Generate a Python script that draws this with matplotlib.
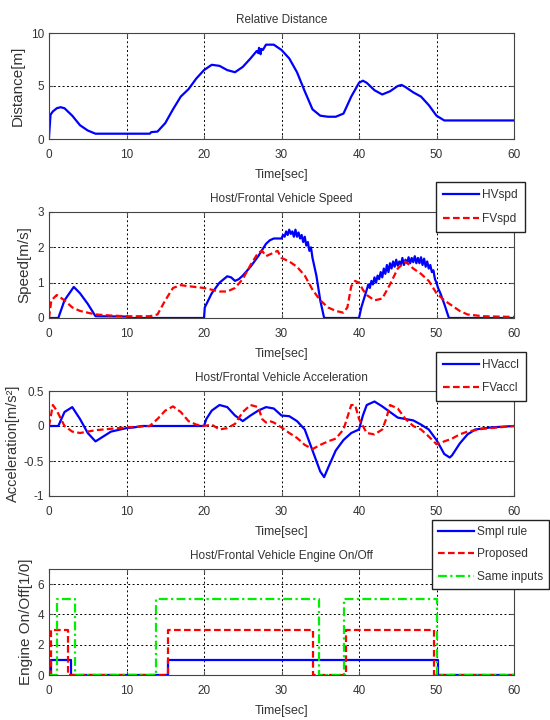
import matplotlib
matplotlib.use("Agg")
import matplotlib.pyplot as plt
from matplotlib import font_manager as fm
from matplotlib.ticker import FormatStrFormatter

_names = {f.name for f in fm.fontManager.ttflist}
NARROW = 'Liberation Sans Narrow' in _names
HFONT = ['Liberation Sans Narrow', 'Liberation Sans', 'DejaVu Sans'] if NARROW else ['Liberation Sans', 'DejaVu Sans']
VFONT = ['Liberation Sans', 'DejaVu Sans']
plt.rcParams['font.family'] = HFONT
plt.rcParams['axes.unicode_minus'] = False

# font sizes (pt) for horizontal texts depend on whether the narrow face exists
TICK_FS = 10 if NARROW else 8.5
TITLE_FS = 10.5 if NARROW else 8.5
XLAB_FS = 11 if NARROW else 9
LEG_FS = 10.5 if NARROW else 8.6
YLAB_FS = 11

# ---------------- data ----------------
dist_t = [0, 0.2, 0.5, 1.0, 1.5, 2, 3, 4, 5, 6, 8, 10, 13, 13.2, 14, 15, 16, 17, 18, 19, 20, 21, 22, 23, 24, 25, 26,
          26.8, 27.0, 27.1, 27.3, 27.4, 27.6, 28, 29, 30, 31, 32, 33, 34, 35, 36, 37, 38, 39, 40, 40.5, 41, 42, 43,
          44, 45, 45.5, 46, 47, 48, 49, 50, 51, 60]
dist_v = [0.2, 2.3, 2.6, 2.9, 3.0, 2.9, 2.2, 1.3, 0.8, 0.5, 0.5, 0.5, 0.5, 0.65, 0.7, 1.5, 2.8, 4.0, 4.7, 5.7, 6.5, 7.0, 6.9, 6.5, 6.3, 6.8, 7.6,
          8.3, 8.1, 8.6, 8.0, 8.5, 8.4, 8.9, 8.9, 8.4, 7.6, 6.3, 4.5, 2.8, 2.2, 2.1, 2.1, 2.4, 4.0, 5.3, 5.5, 5.3, 4.6, 4.2,
          4.5, 5.0, 5.1, 4.9, 4.4, 4.0, 3.2, 2.2, 1.75, 1.75]

hv_spd_t = [0, 1.2, 2, 3.2, 4, 5, 6, 10, 10.5, 20, 20.1, 21, 22, 23, 23.5, 24, 24.5, 25, 26, 27, 28, 28.5, 29, 30,
            30.2, 30.4, 30.6, 30.8, 31.0, 31.2, 31.4, 31.6, 31.8, 32.0, 32.2, 32.4, 32.6, 32.8, 33.0, 33.2, 33.4, 33.6,
            33.8, 34.0, 34.2, 34.5, 35, 35.5, 40, 40.3, 41,
            41.2, 41.4, 41.6, 41.8, 42.0, 42.2, 42.4, 42.6, 42.8, 43.0, 43.2, 43.4, 43.6, 43.8, 44.0, 44.2, 44.4, 44.6,
            44.8, 45.0, 45.2, 45.4, 45.6, 45.8, 46.0, 46.2, 46.4, 46.6, 46.8, 47.0, 47.2, 47.4, 47.6, 47.8, 48.0, 48.2,
            48.4, 48.6, 48.8, 49.0, 49.2, 49.4, 49.6, 49.8, 50.0, 50.2, 50.5, 51, 51.6, 60]
hv_spd_v = [0, 0, 0.5, 0.88, 0.7, 0.4, 0.05, 0.04, 0, 0, 0.3, 0.7, 1.0, 1.18, 1.15, 1.05, 1.1, 1.2, 1.45, 1.75, 2.1, 2.2, 2.25, 2.25,
            2.35, 2.3, 2.45, 2.35, 2.5, 2.38, 2.45, 2.3, 2.5, 2.3, 2.42, 2.25, 2.35, 2.15, 2.3, 2.05, 2.15, 1.9,
            2.0, 1.7, 1.5, 1.2, 0.5, 0.0, 0, 0.3, 0.8,
            0.95, 0.85, 1.05, 0.95, 1.15, 1.0, 1.2, 1.1, 1.3, 1.15, 1.4, 1.25, 1.5, 1.3, 1.55, 1.4, 1.6, 1.45,
            1.65, 1.48, 1.6, 1.5, 1.7, 1.5, 1.65, 1.55, 1.72, 1.55, 1.7, 1.58, 1.75, 1.55, 1.7, 1.55, 1.72, 1.5,
            1.68, 1.45, 1.6, 1.4, 1.5, 1.3, 1.35, 1.1, 1.0, 0.85, 0.7, 0.4, 0.0, 0]

fv_spd_t = [0, 0.3, 1, 2, 3, 4, 5, 6, 8, 10, 13, 14, 15, 16, 17, 18, 20, 22, 23, 24, 25, 26, 27, 27.5, 28, 29, 29.5,
            30, 31, 32, 33, 34, 35, 36, 37, 38, 38.5, 39, 39.5, 40, 40.5, 41, 42, 43, 44, 45, 46, 47, 48, 49, 50, 51,
            52, 53, 54, 56, 60]
fv_spd_v = [0, 0.5, 0.65, 0.5, 0.3, 0.2, 0.15, 0.1, 0.07, 0.05, 0.05, 0.1, 0.5, 0.85, 0.93, 0.9, 0.85, 0.75, 0.75, 0.85, 1.1, 1.5,
            1.85, 1.9, 1.75, 1.85, 1.9, 1.7, 1.6, 1.45, 1.2, 0.8, 0.5, 0.3, 0.2, 0.15, 0.3, 0.9, 1.05, 1.0, 0.8, 0.65, 0.5,
            0.55, 0.95, 1.4, 1.6, 1.4, 1.25, 1.05, 0.7, 0.5, 0.35, 0.2, 0.1, 0.05, 0.03]

hv_acc_t = [0, 1.2, 2, 3, 4, 5, 6, 7, 8, 10, 11, 12, 20, 20.3, 21, 22, 23, 24, 25, 26, 27, 28, 29, 30, 31, 32, 33, 34,
            35, 35.5, 36, 37, 38, 39, 40, 40.5, 41, 42, 43, 44, 45, 46, 47, 48, 49, 50, 51, 51.7, 52, 53, 54, 55, 57, 60]
hv_acc_v = [0, 0, 0.2, 0.27, 0.1, -0.1, -0.22, -0.15, -0.08, -0.03, -0.02, 0, 0, 0.1, 0.22, 0.3, 0.27, 0.15, 0.07, 0.15, 0.22,
            0.27, 0.25, 0.15, 0.14, 0.07, -0.05, -0.35, -0.65, -0.73, -0.6, -0.35, -0.2, -0.1, -0.05, 0.15, 0.3, 0.35,
            0.28, 0.2, 0.12, 0.1, 0.08, 0.02, -0.05, -0.2, -0.4, -0.45, -0.42, -0.25, -0.12, -0.05, -0.02, 0]

fv_acc_t = [0, 0.5, 1, 2, 3, 4, 6, 8, 10, 13, 14, 15, 16, 17, 18, 19, 20, 21, 22, 23, 24, 25, 26, 27, 27.5, 28, 28.5,
            29, 30, 31, 32, 33, 34, 35, 36, 37, 38, 39, 39.5, 40, 41, 42, 43, 43.5, 44, 45, 46, 47, 48, 49, 50, 51, 52,
            53, 54, 56, 58, 60]
fv_acc_v = [0, 0.3, 0.22, 0, -0.08, -0.1, -0.06, -0.04, -0.02, 0, 0.1, 0.22, 0.28, 0.2, 0.07, 0.02, 0, 0.02, -0.05, -0.03,
            0.03, 0.2, 0.3, 0.27, 0.1, 0.05, 0.07, 0.05, -0.02, -0.1, -0.17, -0.27, -0.33, -0.27, -0.22, -0.18, -0.05,
            0.3, 0.3, 0.1, -0.1, -0.12, -0.05, 0.1, 0.3, 0.25, 0.1, 0, -0.05, -0.15, -0.26, -0.22, -0.18, -0.12, -0.08,
            -0.04, -0.02, 0]

smpl_t = [0, 0.3, 2.85, 15.3, 50.2, 60]
smpl_v = [0, 1, 0, 1, 0, 0]
prop_t = [0, 0.27, 2.45, 15.3, 34.0, 38.3, 49.7, 60]
prop_v = [0, 3, 0, 3, 0, 3, 0, 0]
same_t = [0, 1.05, 3.35, 13.8, 34.8, 38.0, 50.0, 60]
same_v = [0, 5, 0, 5, 0, 5, 0, 0]

# ---------------- figure ----------------
W, H = 550, 720
fig = plt.figure(figsize=(W / 100, H / 100), dpi=100)

def axes_px(top, bottom, left=49, right=514):
    return fig.add_axes([left / W, 1 - bottom / H, (right - left) / W, (bottom - top) / H])

txt = '#333333'
BLUE, RED, GREEN = '#0000ff', '#ff0000', '#00ee00'

def style(ax, ylim, yticks, title, ylabel, label_right_px, ylab_fs=YLAB_FS):
    ax.set_xlim(0, 60)
    ax.set_xticks([0, 10, 20, 30, 40, 50, 60])
    ax.set_ylim(*ylim)
    ax.set_yticks(yticks)
    ax.yaxis.set_major_formatter(FormatStrFormatter('%g'))
    ax.grid(True, color='black', linestyle=(0, (2, 2.5)), linewidth=0.7)
    ax.tick_params(direction='in', length=3, colors='#555555', labelcolor=txt, labelsize=TICK_FS,
                   top=True, right=True)
    ax.tick_params(axis='x', pad=7)
    ax.tick_params(axis='y', pad=3.5)
    for s in ax.spines.values():
        s.set_color('#444444')
        s.set_linewidth(0.8)
    ax.set_title(title, fontsize=TITLE_FS, color=txt, pad=7)
    ax.set_xlabel('Time[sec]', fontsize=XLAB_FS, color=txt, labelpad=6)
    ax.set_ylabel(ylabel, fontsize=ylab_fs, color=txt, family=VFONT)
    ax.yaxis.set_label_coords((label_right_px - 49) / 465.0, 0.5)

# Panel 1
ax1 = axes_px(33, 139)
ax1.plot(dist_t, dist_v, color=BLUE, lw=1.6)
style(ax1, (0, 10), [0, 5, 10], 'Relative Distance', 'Distance[m]', 25)

# Panel 2
ax2 = axes_px(212, 318)
ax2.plot(hv_spd_t, hv_spd_v, color=BLUE, lw=1.6, label='HVspd')
ax2.plot(fv_spd_t, fv_spd_v, color=RED, lw=1.6, ls=(0, (3, 1.5)), label='FVspd')
style(ax2, (0, 3), [0, 1, 2, 3], 'Host/Frontal Vehicle Speed', 'Speed[m/s]', 31)

# Panel 3
ax3 = axes_px(391, 496)
ax3.plot(hv_acc_t, hv_acc_v, color=BLUE, lw=1.6, label='HVaccl')
ax3.plot(fv_acc_t, fv_acc_v, color=RED, lw=1.6, ls=(0, (3, 1.5)), label='FVaccl')
style(ax3, (-1, 0.5), [-1, -0.5, 0, 0.5], 'Host/Frontal Vehicle Acceleration', 'Acceleration[m/s²]', 20, 10.5)

# Panel 4
ax4 = axes_px(569, 675)
ax4.plot(smpl_t, smpl_v, color=BLUE, lw=1.6, drawstyle='steps-post', label='Smpl rule')
ax4.plot(prop_t, prop_v, color=RED, lw=1.6, ls=(0, (3, 1.5)), drawstyle='steps-post', label='Proposed')
ax4.plot(same_t, same_v, color=GREEN, lw=1.6, ls=(0, (4, 1.5, 1, 1.5)), drawstyle='steps-post', label='Same inputs')
style(ax4, (0, 7), [0, 2, 4, 6], 'Host/Frontal Vehicle Engine On/Off', 'Engine On/Off[1/0]', 33)

EM = LEG_FS * 100 / 72.0

def legend(ax, x, top, loc, borderpad, spacing_px):
    lg = ax.legend(loc=loc, bbox_to_anchor=(x / W, 1 - top / H), bbox_transform=fig.transFigure,
                   fancybox=False, framealpha=1, edgecolor='#222222', fontsize=LEG_FS,
                   handlelength=36 / EM, handletextpad=3 / EM, borderaxespad=0,
                   borderpad=borderpad, labelspacing=max(0.2, (spacing_px - 12) / EM))
    lg.get_frame().set_linewidth(1.0)
    for t in lg.get_texts():
        t.set_color(txt)
    return lg

legend(ax2, 436, 182, 'upper left', 0.6, 24)
legend(ax3, 436, 352, 'upper left', 0.6, 23)
legend(ax4, 549, 520, 'upper right', 0.5, 22.5)

fig.savefig('out.png', dpi=100)
